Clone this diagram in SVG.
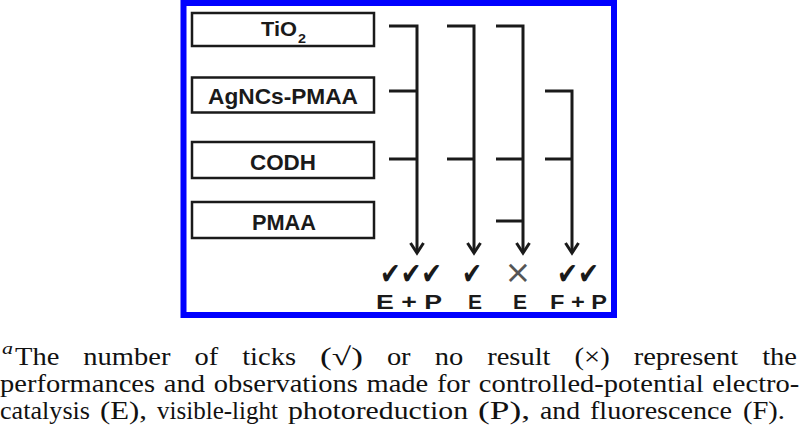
<svg xmlns="http://www.w3.org/2000/svg" width="800" height="441" viewBox="0 0 800 441">
<style>
.box{fill:#fff;stroke:#1a1a1a;stroke-width:2.5}
.lbl{font-family:"Liberation Sans",Arial,sans-serif;font-weight:bold;fill:#1a1a1a}
.wire{fill:none;stroke:#1a1a1a;stroke-width:3;stroke-linejoin:miter}
.tick{font-family:"DejaVu Sans","Liberation Sans",sans-serif;font-weight:bold;font-size:30px;fill:#1a1a1a}
.cap{font-family:"Liberation Serif","Times New Roman",serif;font-size:25px;fill:#111}
</style>
<defs>
<marker id="chev" viewBox="-3 -9 16 18" markerWidth="16" markerHeight="18" markerUnits="userSpaceOnUse" refX="10" refY="0" orient="auto" overflow="visible">
<path d="M0,-6.5 L10,0 L0,6.5" fill="none" stroke="#1a1a1a" stroke-width="3"/>
</marker>
</defs>
<rect x="183.5" y="3" width="430.5" height="312" fill="#fff" stroke="#0000ff" stroke-width="6"/>
<g id="node-tio2">
<rect class="box" x="192" y="13" width="182" height="33"/>
<text class="lbl" x="261" y="36" font-size="20" textLength="36" lengthAdjust="spacingAndGlyphs">TiO</text>
<text class="lbl" x="298" y="43" font-size="13" textLength="8" lengthAdjust="spacingAndGlyphs">2</text>
</g>
<g id="node-agncs">
<rect class="box" x="192" y="77.5" width="182" height="35"/>
<text class="lbl" x="208" y="104" font-size="22.5" textLength="150" lengthAdjust="spacingAndGlyphs">AgNCs-PMAA</text>
</g>
<g id="node-codh">
<rect class="box" x="192" y="142" width="182" height="36"/>
<text class="lbl" x="250" y="169.5" font-size="22" textLength="66" lengthAdjust="spacingAndGlyphs">CODH</text>
</g>
<g id="node-pmaa">
<rect class="box" x="192" y="202" width="182" height="36"/>
<text class="lbl" x="252" y="229.5" font-size="22" textLength="64" lengthAdjust="spacingAndGlyphs">PMAA</text>
</g>
<g id="connectors">
<path class="wire" d="M389,26 H417 V253" marker-end="url(#chev)"/>
<path class="wire" d="M389,91 H417 M389,159 H417"/>
<path class="wire" d="M447,26 H474 V253" marker-end="url(#chev)"/>
<path class="wire" d="M447,159 H474"/>
<path class="wire" d="M496,26 H523 V253" marker-end="url(#chev)"/>
<path class="wire" d="M496,159 H523 M496,221 H523"/>
<path class="wire" d="M545,91 H572 V253" marker-end="url(#chev)"/>
<path class="wire" d="M545,159 H572"/>
</g>
<g id="results">
<text class="tick" x="380" y="284" textLength="62" lengthAdjust="spacingAndGlyphs">✔✔✔</text>
<text class="tick" x="462" y="284" textLength="20" lengthAdjust="spacingAndGlyphs">✔</text>
<text x="518" y="283" text-anchor="middle" font-family="DejaVu Sans,Liberation Sans,sans-serif" font-size="32" fill="#555">×</text>
<text class="tick" x="557" y="284" textLength="42" lengthAdjust="spacingAndGlyphs">✔✔</text>
<text class="lbl" x="376" y="309" font-size="20" textLength="66" lengthAdjust="spacingAndGlyphs">E + P</text>
<text class="lbl" x="468" y="309" font-size="20" textLength="14" lengthAdjust="spacingAndGlyphs">E</text>
<text class="lbl" x="513" y="309" font-size="20" textLength="14" lengthAdjust="spacingAndGlyphs">E</text>
<text class="lbl" x="550" y="309" font-size="20" textLength="57" lengthAdjust="spacingAndGlyphs">F + P</text>
</g>
<g id="caption">
<text class="cap" x="2" y="354" font-style="italic" textLength="11" lengthAdjust="spacingAndGlyphs" style="font-size:17px">a</text>
<text class="cap" x="15" y="365" textLength="44.3" lengthAdjust="spacingAndGlyphs">The</text>
<text class="cap" x="83.3" y="365" textLength="87.1" lengthAdjust="spacingAndGlyphs">number</text>
<text class="cap" x="194.5" y="365" textLength="23.7" lengthAdjust="spacingAndGlyphs">of</text>
<text class="cap" x="242.2" y="365" textLength="53.8" lengthAdjust="spacingAndGlyphs">ticks</text>
<text class="cap" x="320.1" y="365" textLength="42.8" lengthAdjust="spacingAndGlyphs">(√)</text>
<text class="cap" x="386.9" y="365" textLength="23.7" lengthAdjust="spacingAndGlyphs">or</text>
<text class="cap" x="434.7" y="365" textLength="28.5" lengthAdjust="spacingAndGlyphs">no</text>
<text class="cap" x="487.2" y="365" textLength="63.3" lengthAdjust="spacingAndGlyphs">result</text>
<text class="cap" x="574.6" y="365" textLength="35.1" lengthAdjust="spacingAndGlyphs">(×)</text>
<text class="cap" x="633.7" y="365" textLength="104.5" lengthAdjust="spacingAndGlyphs">represent</text>
<text class="cap" x="762.2" y="365" textLength="34.8" lengthAdjust="spacingAndGlyphs">the</text>
<text class="cap" x="0" y="392" textLength="155.1" lengthAdjust="spacingAndGlyphs">performances</text>
<text class="cap" x="163.8" y="392" textLength="41.2" lengthAdjust="spacingAndGlyphs">and</text>
<text class="cap" x="213.7" y="392" textLength="144.1" lengthAdjust="spacingAndGlyphs">observations</text>
<text class="cap" x="366.5" y="392" textLength="61.7" lengthAdjust="spacingAndGlyphs">made</text>
<text class="cap" x="436.9" y="392" textLength="33.2" lengthAdjust="spacingAndGlyphs">for</text>
<text class="cap" x="478.8" y="392" textLength="224.8" lengthAdjust="spacingAndGlyphs">controlled-potential</text>
<text class="cap" x="712.3" y="392" textLength="87" lengthAdjust="spacingAndGlyphs">electro-</text>
<text class="cap" x="0" y="419" textLength="90" lengthAdjust="spacingAndGlyphs">catalysis</text>
<text class="cap" x="100" y="419" textLength="47" lengthAdjust="spacingAndGlyphs">(E),</text>
<text class="cap" x="157" y="419" textLength="121" lengthAdjust="spacingAndGlyphs">visible-light</text>
<text class="cap" x="288" y="419" textLength="180" lengthAdjust="spacingAndGlyphs">photoreduction</text>
<text class="cap" x="478" y="419" textLength="52" lengthAdjust="spacingAndGlyphs">(P),</text>
<text class="cap" x="540" y="419" textLength="40" lengthAdjust="spacingAndGlyphs">and</text>
<text class="cap" x="590" y="419" textLength="142" lengthAdjust="spacingAndGlyphs">fluorescence</text>
<text class="cap" x="743" y="419" textLength="42" lengthAdjust="spacingAndGlyphs">(F).</text>
</g>
</svg>
